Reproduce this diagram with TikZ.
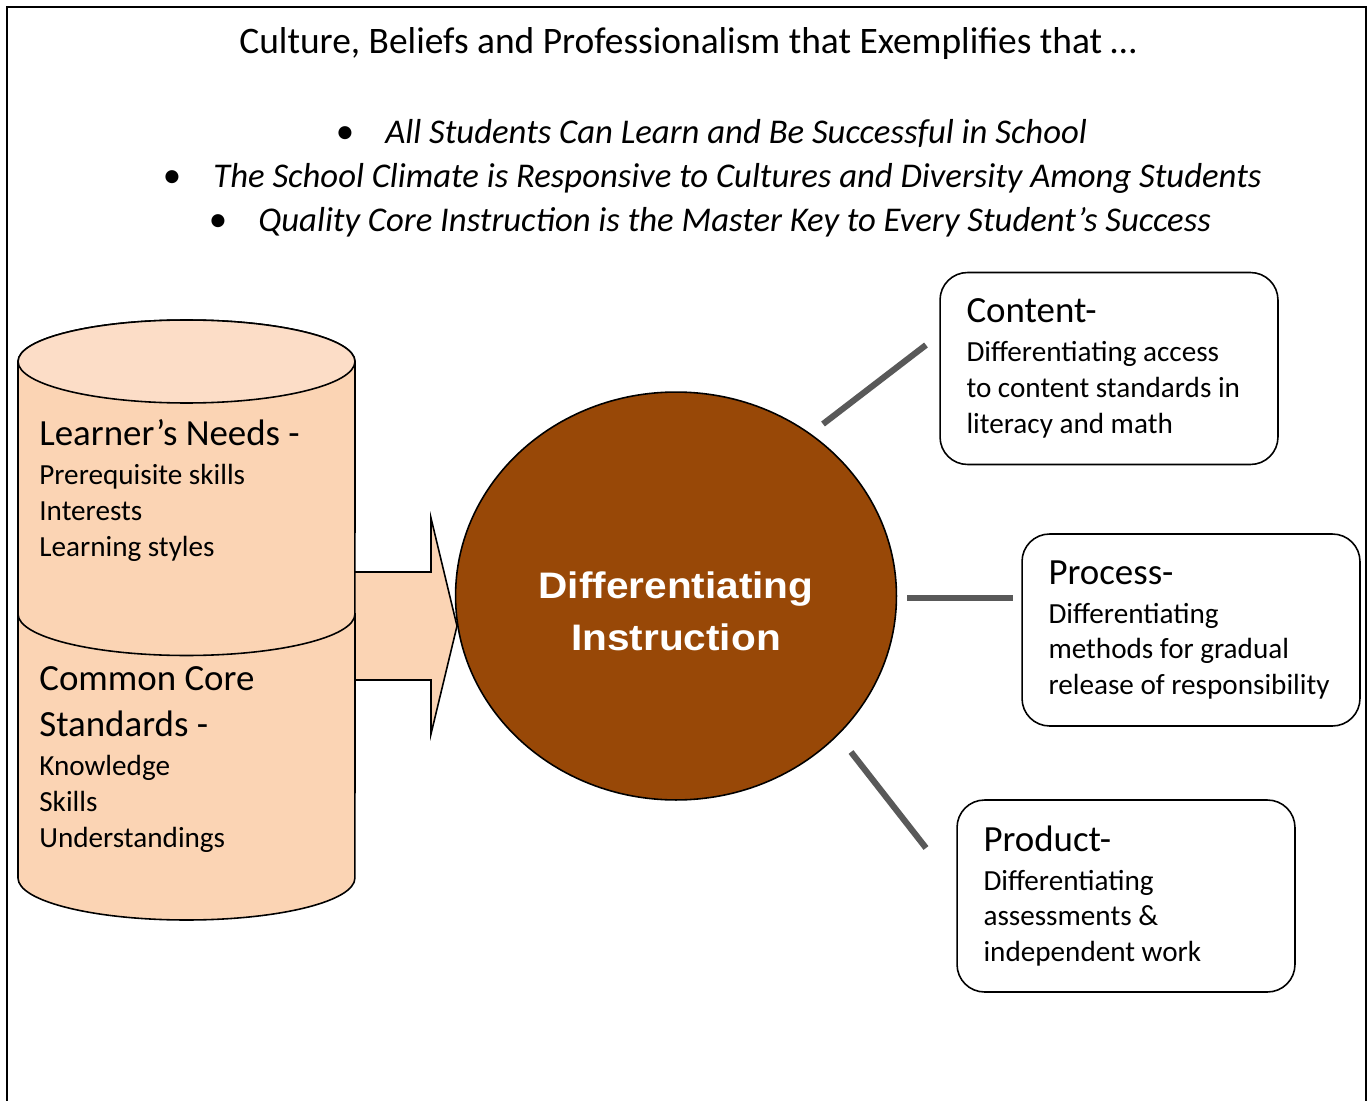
\documentclass[tikz,border=0pt]{standalone}
\usepackage{fontspec}
\setmainfont{Carlito}
\newfontfamily\arialfont{Liberation Sans}[FakeStretch=1.1]
\usetikzlibrary{shapes.geometric}

\definecolor{peach}{HTML}{FBD4B4}
\definecolor{peachtop}{HTML}{FCDDC7}
\definecolor{rust}{HTML}{984807}
\definecolor{spokegray}{HTML}{595959}
\newcommand{\headsize}{\fontsize{21}{26}\selectfont}
\newcommand{\bodysize}{\fontsize{16.6}{20.4}\selectfont}

\tikzset{
  belief/.style={anchor=base west, inner sep=0pt, font=\fontsize{19.75}{24}\selectfont\itshape},
  bulletdot/.style={anchor=base, inner sep=0pt, font=\fontsize{21}{24}\selectfont},
  stack/.style={anchor=base west, inner sep=0pt, text width=7cm, align=flush left, font=\bodysize},
  optbox/.style={draw, line width=0.9pt, rounded corners=0.55cm, minimum width=6.76cm,
    minimum height=3.84cm, text width=5.7cm, inner xsep=0.53cm, align=flush left, font=\bodysize},
  spoke/.style={spokegray, line width=3.5pt},
}

\begin{document}
\begin{tikzpicture}[x=0.02cm, y=-0.02cm]
    \useasboundingbox (0,0) rectangle (1372,1101);
    % Outer frame (open at the bottom)
    \draw[line width=1.3pt] (7,1101) -- (7,7) -- (1366,7) -- (1366,1101);

    % TOP: Title and beliefs
    \node[anchor=base, inner sep=0pt, font=\fontsize{21.3}{25}\selectfont] (title) at (688,54)
        {Culture, Beliefs and Professionalism that Exemplifies that …};
    \node[bulletdot] (dot1) at (345,144) {•};
    \node[belief] (belief1) at (385,144) {All Students Can Learn and Be Successful in School};
    \node[bulletdot] (dot2) at (172,188) {•};
    \node[belief] (belief2) at (213,188) {The School Climate is Responsive to Cultures and Diversity Among Students};
    \node[bulletdot] (dot3) at (218,232) {•};
    \node[belief] (belief3) at (258,232) {Quality Core Instruction is the Master Key to Every Student’s Success};

    % MIDDLE: Block arrow into the hub
    \draw[fill=peach, line width=0.9pt] (345,572) -- (431,572) -- (431,518) -- (457,626)
        -- (431,734) -- (431,680) -- (345,680);

    % LEFT: Stacked cylinders
    % Lower cylinder
    \draw[fill=peach, line width=0.9pt] (18,614) -- (18,878) arc (180:360:3.37cm and 0.84cm)
        -- (355,614) -- cycle;
    % Upper cylinder
    \draw[fill=peach, line width=0.9pt] (18,361.5) -- (18,614) arc (180:360:3.37cm and 0.83cm)
        -- (355,361.5) arc (0:180:3.37cm and 0.83cm) -- cycle;
    \draw[fill=peachtop, line width=0.9pt] (186.5,361.5) ellipse [x radius=3.37cm, y radius=0.83cm];
    \node[stack] (needs) at (39,445)
        {\headsize Learner’s Needs -\par\vspace{2.3pt}\bodysize Prerequisite skills\\Interests\\Learning styles};
    \node[stack] (standards) at (39,690.7)
        {\headsize Common Core\\Standards -\par\vspace{2pt}\bodysize Knowledge\\Skills\\Understandings};

    % CENTER: Differentiating Instruction
    \node[ellipse, draw, line width=0.9pt, fill=rust, minimum width=8.82cm, minimum height=8.16cm,
        inner sep=0pt] (hub) at (676,596) {};
    \node[align=center, text=white, inner sep=0pt, font=\arialfont\bfseries\fontsize{21}{29.7}\selectfont]
        (hublabel) at (676,611) {Differentiating\\Instruction};

    % RIGHT: Content, Process, Product
    \node[optbox] (content) at (1109,368.5)
        {\headsize Content-\par\vspace{1.7pt}\bodysize Differentiating access\\to content standards in\\literacy and math};
    \node[optbox] (process) at (1191,630)
        {\headsize Process-\par\vspace{1.7pt}\bodysize Differentiating\\methods for gradual\\release of responsibility};
    \node[optbox] (product) at (1126,896)
        {\headsize Product-\par\vspace{1.7pt}\bodysize Differentiating\\assessments \&\\independent work};

    % Spokes
    \coordinate (s1a) at (823,424);  \coordinate (s1b) at (926,345);
    \coordinate (s2a) at (907,598);  \coordinate (s2b) at (1013,598);
    \coordinate (s3a) at (851,752);  \coordinate (s3b) at (926,848);
    \draw[spoke] (s1a) -- (s1b);
    \draw[spoke] (s2a) -- (s2b);
    \draw[spoke] (s3a) -- (s3b);
\end{tikzpicture}
\end{document}
